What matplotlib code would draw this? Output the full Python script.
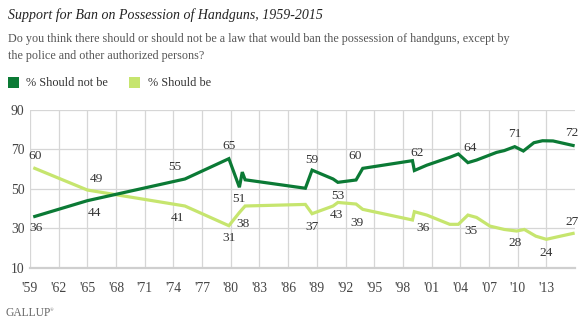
import matplotlib
matplotlib.use("Agg")
import matplotlib.pyplot as plt
import numpy as np
from matplotlib.patches import Rectangle

# ---- data ----
years_not = [1959.5, 1965.0, 1975.2, 1979.8, 1980.9, 1981.2, 1981.5, 1987.8, 1988.5,
             1990.7, 1991.2, 1993.1, 1993.8, 1999.0, 1999.2, 2000.5, 2002.9, 2003.8,
             2004.8, 2005.7, 2007.8, 2008.6, 2009.7, 2010.6, 2011.7, 2012.6, 2013.7, 2015.8]
should_not = [36, 44, 55, 65.3, 50.8, 58.5, 54.6, 50.3, 59.5,
              55, 53.3, 54.5, 60.4, 64.3, 59.3, 62, 66, 67.7,
              63.3, 64.6, 68.5, 69.4, 71.4, 69.2, 73.4, 74.4, 74.3, 72]

years_be = [1959.5, 1965.0, 1975.2, 1979.8, 1980.9, 1981.5, 1987.8, 1988.5, 1990.7,
            1991.2, 1993.1, 1993.8, 1999.0, 1999.2, 2000.5, 2002.9, 2003.8, 2004.8,
            2005.7, 2007.1, 2008.6, 2009.9, 2010.7, 2011.9, 2013.0, 2014.2, 2015.8]
should_be = [60.4, 49.4, 41.3, 31.3, 38, 41.3, 42.1, 37.4, 41.3,
             43.1, 42.3, 39.6, 34.2, 38.4, 36.7, 32, 32, 36.7,
             35.5, 31.1, 29.4, 28.6, 29.4, 26, 24.4, 25.7, 27.4]

# data labels: (series index, shown text)
labels_not = [(0, "36"), (1, "44"), (2, "55"), (3, "65"), (4, "51"), (8, "59"),
              (10, "53"), (12, "60"), (14, "62"), (18, "64"), (22, "71"), (27, "72")]
labels_be = [(0, "60"), (1, "49"), (2, "41"), (3, "31"), (4, "38"), (7, "37"),
             (9, "43"), (11, "39"), (14, "36"), (17, "35"), (21, "28"), (24, "24"), (26, "27")]

xtick_years = list(range(1959, 2014, 3))
xtick_labels = ["'" + str(y)[2:] for y in xtick_years]
ytick_vals = [10, 30, 50, 70, 90]

title = "Support for Ban on Possession of Handguns, 1959-2015"
subtitle1 = "Do you think there should or should not be a law that would ban the possession of handguns, except by"
subtitle2 = "the police and other authorized persons?"
series_names = ["% Should not be", "% Should be"]

# ---- style ----
DARK = "#0B7A35"
LIGHT = "#C6E56E"
FONT = ["Liberation Serif", "DejaVu Serif"]
plt.rcParams['font.family'] = FONT

W, H = 582, 329
fig = plt.figure(figsize=(W / 100, H / 100), dpi=100)
fig.patch.set_facecolor("white")

def fx(px):
    return px / W

def fy(py):
    return 1 - py / H

ax = fig.add_axes([fx(30), fy(267.7), fx(575) - fx(30), fy(110) - fy(267.7)])
ax.set_xlim(1959, 2016)
ax.set_ylim(10, 90)

ax.plot(years_be, should_be, color=LIGHT, lw=2.3, solid_joinstyle="miter", zorder=3)
ax.plot(years_not, should_not, color=DARK, lw=2.3, solid_joinstyle="miter", zorder=4)

ax.set_xticks(xtick_years)
ax.set_xticklabels(xtick_labels)
ax.set_yticks(ytick_vals)
ax.set_yticklabels([str(v) for v in ytick_vals])
ax.grid(True, color="#d6d6d6", lw=0.9)
ax.set_axisbelow(True)
for s in ["top", "right", "left"]:
    ax.spines[s].set_visible(False)
ax.spines["bottom"].set_color("#cfcfcf")
ax.spines["bottom"].set_linewidth(1.6)
ax.tick_params(axis="both", length=0, labelsize=9.8, colors="#444444")
ax.tick_params(axis="x", pad=10)
ax.tick_params(axis="y", pad=4)

# label offsets in pixels (dx, dy)
off_not = {0: (1, -11.5), 1: (7.5, -12), 2: (-10, 11.5), 3: (0, 13), 4: (0, -11.5),
           8: (0, 10), 10: (0, -13.7), 12: (-8, 12.6), 14: (3, 18), 18: (2, 14.3),
           22: (0, 12.3), 27: (-1, 12.2)}
off_be = {0: (0, 12.3), 1: (9.3, 11), 2: (-7.7, -11.8), 3: (0.6, -12), 4: (4, -11),
          7: (0, -13), 9: (-1, -12.6), 11: (-6, -13.4), 14: (-4, -12.7), 17: (3.5, -15.7),
          21: (-2, -12.3), 24: (0, -13.5), 26: (-1, 11)}

for i, t in labels_not:
    dx, dy = off_not[i]
    ax.annotate(t, (years_not[i], should_not[i]), xytext=(dx, dy), textcoords="offset pixels",
                ha="center", va="center", fontsize=9.6, color="#333333", annotation_clip=False)
for i, t in labels_be:
    dx, dy = off_be[i]
    ax.annotate(t, (years_be[i], should_be[i]), xytext=(dx, dy), textcoords="offset pixels",
                ha="center", va="center", fontsize=9.6, color="#333333", annotation_clip=False)

# ---- header ----
fig.text(fx(8), fy(19), title, fontsize=10.0, style="italic", color="#222222", va="baseline")
fig.text(fx(8), fy(42), subtitle1, fontsize=8.75, color="#555555", va="baseline")
fig.text(fx(8), fy(58.5), subtitle2, fontsize=8.75, color="#555555", va="baseline")

# legend
fig.patches.append(Rectangle((fx(8), fy(88)), fx(11), fy(77) - fy(88), transform=fig.transFigure,
                             facecolor=DARK, edgecolor="none"))
fig.text(fx(26), fy(86), series_names[0], fontsize=8.8, color="#333333", va="baseline")
fig.patches.append(Rectangle((fx(129), fy(88)), fx(11), fy(77) - fy(88), transform=fig.transFigure,
                             facecolor=LIGHT, edgecolor="none"))
fig.text(fx(148), fy(86), series_names[1], fontsize=8.8, color="#333333", va="baseline")

# logo
fig.text(fx(6), fy(316), "GALLUP", fontsize=8.3, color="#666666", va="baseline")
fig.text(fx(50), fy(311), "®", fontsize=3.5, color="#666666", va="baseline")

fig.savefig("out.png", dpi=100, facecolor="white")
